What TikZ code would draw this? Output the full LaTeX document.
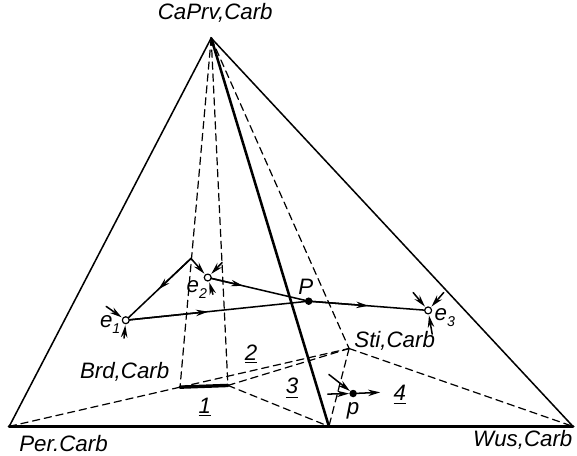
\documentclass[tikz,border=0pt]{standalone}
\usepackage{fontspec}
\setmainfont{Liberation Sans}
\usetikzlibrary{calc,arrows.meta}

\begin{document}
\begin{tikzpicture}[line cap=round,line join=round,
    >={Stealth[length=6pt,width=3.2pt]},
    font=\fontsize{11}{13}\selectfont\itshape,
    dsh/.style={line width=0.6pt,dash pattern=on 3.6pt off 2.3pt}]
  \useasboundingbox (0,0) rectangle (10.00,7.89);
  % corners of the pyramid
  \coordinate (A) at (3.66,7.23);
  \coordinate (Per) at (0.16,0.50);
  \coordinate (Wus) at (9.93,0.50);
  \coordinate (M) at (5.70,0.50);
  \coordinate (S) at (6.05,1.85);
  \coordinate (B1) at (3.12,1.18);
  \coordinate (B2) at (3.95,1.21);
  % points of the paths
  \coordinate (e1) at (2.18,2.34);
  \coordinate (e2) at (3.60,3.08);
  \coordinate (e3) at (7.42,2.51);
  \coordinate (P) at (5.35,2.67);
  \coordinate (p) at (6.12,1.07);
  \coordinate (K) at (3.31,3.41);
  % free ends of the short arrows
  \coordinate (e1a) at (1.84,2.58);
  \coordinate (e1b) at (2.15,2.03);
  \coordinate (e2a) at (3.85,3.34);
  \coordinate (e2b) at (3.69,2.79);
  \coordinate (e3a) at (7.16,2.82);
  \coordinate (e3b) at (7.69,2.82);
  \coordinate (e3c) at (7.49,2.10);
  \coordinate (pa) at (5.70,1.40);
  \coordinate (pb) at (5.68,1.06);
  \coordinate (pc) at (6.59,1.09);
  % outer edges
  \draw[line width=0.75pt] (Per) -- (A) -- (Wus);
  \draw[line width=1.6pt] (Per) -- (Wus);
  \draw[line width=1.25pt] (A) -- (M);
  % dashed edges
  \draw[dsh] (A) -- (B1);
  \draw[dsh] (A) -- (B2);
  \draw[dsh] (A) -- (S);
  \draw[dsh] (Per) -- (B1);
  \draw[dsh] (B1) -- (S);
  \draw[dsh] (B2) -- (S);
  \draw[dsh] (B2) -- (M);
  \draw[dsh] (S) -- (M);
  \draw[dsh] (S) -- (Wus);
  \draw[line width=1.7pt] (B1) -- (B2);
  % paths
  \draw[line width=0.75pt] (e1) -- (P) -- (e3);
  \draw[line width=0.75pt,->] (e1) -- ($(e1)!0.45!(P)$);
  \draw[line width=0.75pt,->] (P) -- ($(P)!0.5!(e3)$);
  \draw[line width=0.75pt] (e2) -- (P);
  \draw[line width=0.75pt,->] (e2) -- ($(e2)!0.35!(P)$);
  \draw[line width=0.75pt] (K) -- (e1);
  \draw[line width=0.75pt,->] (K) -- ($(K)!0.5!(e1)$);
  \draw[line width=0.75pt,->,shorten >=2.5pt] (K) -- (e2);
  % short arrows
  \draw[line width=0.75pt,->,shorten >=2.5pt] (e1a) -- (e1);
  \draw[line width=0.75pt,->,shorten >=2.5pt] (e1b) -- (e1);
  \draw[line width=0.75pt,->,shorten >=2.5pt] (e2a) -- (e2);
  \draw[line width=0.75pt,->,shorten >=2.5pt] (e2b) -- (e2);
  \draw[line width=0.75pt,->,shorten >=2.5pt] (e3a) -- (e3);
  \draw[line width=0.75pt,->,shorten >=2.5pt] (e3b) -- (e3);
  \draw[line width=0.75pt,->,shorten >=2.5pt] (e3c) -- (e3);
  \draw[line width=0.75pt,->,shorten >=2pt] (pa) -- (p);
  \draw[line width=0.75pt,->,shorten >=2pt] (pb) -- (p);
  \draw[line width=0.75pt,->] (p) -- (pc);
  % points
  \foreach \pt in {e1,e2,e3}
    \draw[line width=0.6pt,fill=white] (\pt) circle (0.06);
  \fill (P) circle (0.065);
  \fill (p) circle (0.065);
  % labels
  \node (lA) at (3.73,7.66) {CaPrv,Carb};
  \node (lPer) at (1.10,0.20) {Per.Carb};
  \node (lWus) at (9.06,0.26) {Wus,Carb};
  \node (lBrd) at (2.16,1.44) {Brd,Carb};
  \node (lSti) at (6.84,1.98) {Sti,Carb};
  \node (lP) at (5.30,2.92) {P};
  \node (lp) at (6.12,0.77) {p};
  \node (le1) at (1.91,2.27) {e\raisebox{-0.5ex}{\fontsize{7}{8}\selectfont 1}};
  \node (le2) at (3.41,2.88) {e\raisebox{-0.5ex}{\fontsize{7}{8}\selectfont 2}};
  \node (le3) at (7.71,2.39) {e\raisebox{-0.5ex}{\fontsize{7}{8}\selectfont 3}};
  \node (n1) at (3.55,0.83) {\underline{1}};
  \node (n2) at (4.35,1.75) {\underline{2}};
  \node (n3) at (5.06,1.16) {\underline{3}};
  \node (n4) at (6.93,1.04) {\underline{4}};
\end{tikzpicture}
\end{document}
